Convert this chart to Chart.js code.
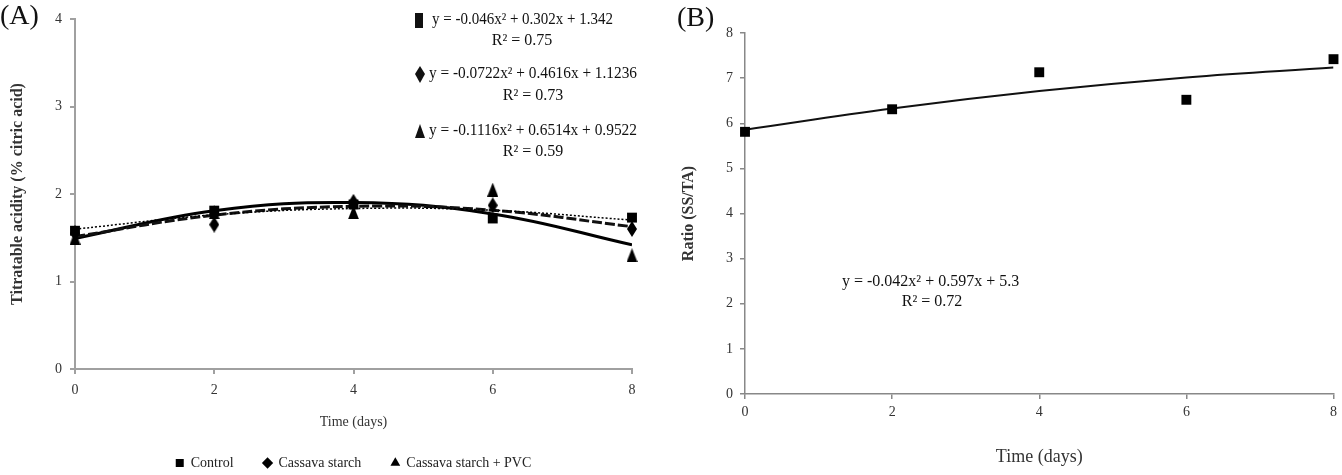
<!DOCTYPE html>
<html><head><meta charset="utf-8">
<script src="https://cdn.jsdelivr.net/npm/chart.js@4.4.1/dist/chart.umd.min.js"></script>
<style>
html,body{margin:0;padding:0;background:#fff;width:1342px;height:475px;overflow:hidden}
#ca{position:absolute;left:0;top:0}
#cb{position:absolute;left:670px;top:0}
</style></head><body>
<canvas id="ca" width="665" height="475"></canvas>
<canvas id="cb" width="672" height="475"></canvas>
<script>
// ---- data ----
const days = [0, 2, 4, 6, 8];
const seriesNames = ['Control', 'Cassava starch', 'Cassava starch + PVC'];
const control = [1.58, 1.81, 1.88, 1.72, 1.73];
const cassava = [1.55, 1.65, 1.91, 1.87, 1.60];
const cassavaPvc = [1.50, 1.79, 1.79, 2.05, 1.30];
const controlFit = [1.598, 1.762, 1.834, 1.814, 1.702];
const cassavaFit = [1.513, 1.758, 1.859, 1.815, 1.627];
const cassavaPvcFit = [1.492, 1.809, 1.902, 1.772, 1.419];
const ratio = [5.81, 6.31, 7.13, 6.52, 7.42];
const ratioFit = [5.855, 6.326, 6.713, 7.016, 7.235];
const xTicks = [0, 2, 4, 6, 8];
const yTicksA = [0, 1, 2, 3, 4];
const yTicksB = [0, 1, 2, 3, 4, 5, 6, 7, 8];
const eqA = ['y = -0.046x² + 0.302x + 1.342', 'y = -0.0722x² + 0.4616x + 1.1236', 'y = -0.1116x² + 0.6514x + 0.9522'];
const r2A = ['R² = 0.75', 'R² = 0.73', 'R² = 0.59'];
const eqB = 'y = -0.042x² + 0.597x + 5.3';
const r2B = 'R² = 0.72';

const FONT = 'Liberation Serif';
const pts = (ys) => days.map((d, i) => ({x: d, y: ys[i]}));

function shapeCanvas(w, h, path) {
  const c = document.createElement('canvas'); c.width = w; c.height = h;
  const g = c.getContext('2d'); g.fillStyle = '#000'; g.beginPath(); path(g); g.closePath(); g.fill();
  return c;
}
const diamondImg = shapeCanvas(10, 16, g => { g.moveTo(5, 0); g.lineTo(10, 8); g.lineTo(5, 16); g.lineTo(0, 8); });
const triImg = shapeCanvas(11, 14, g => { g.moveTo(5.5, 0); g.lineTo(11, 14); g.lineTo(0, 14); });

function textPlugin(items, shapes) {
  return {
    id: 'txt',
    afterDraw(chart) {
      const ctx = chart.ctx; ctx.save(); ctx.fillStyle = '#111'; ctx.textBaseline = 'middle';
      for (const it of items) {
        ctx.font = it.font; ctx.textAlign = it.align || 'left';
        if (it.maxWidth) ctx.fillText(it.text, it.x, it.y, it.maxWidth); else ctx.fillText(it.text, it.x, it.y);
      }
      for (const s of (shapes || [])) { ctx.beginPath(); s(ctx); ctx.closePath(); ctx.fill(); }
      ctx.restore();
    }
  };
}

function axisCommon(ticksArr, color, bw, extra) {
  return Object.assign({
    type: 'linear',
    afterBuildTicks: s => { s.ticks = ticksArr.map(v => ({value: v})); },
    border: {display: true, color: color, width: bw},
    grid: {display: true, drawOnChartArea: false, color: color, tickColor: color, tickLength: 5, lineWidth: bw},
  }, extra);
}

// ---- Chart A ----
const legendStyles = ['rect', 'rectRot', 'triangle'];
new Chart(document.getElementById('ca'), {
  type: 'scatter',
  data: {
    datasets: [
      {label: seriesNames[0], data: pts(control), pointStyle: 'rect', pointRadius: 7, backgroundColor: '#000', borderColor: '#000', borderWidth: 0, clip: false},
      {label: seriesNames[1], data: pts(cassava), pointStyle: diamondImg, backgroundColor: '#000', borderColor: '#000', clip: false},
      {label: seriesNames[2], data: pts(cassavaPvc), pointStyle: triImg, backgroundColor: '#000', borderColor: '#000', clip: false},
      {label: 'fit1', data: pts(controlFit), showLine: true, pointRadius: 0, borderColor: '#000', borderWidth: 1.5, borderDash: [2, 2], tension: 0.4, fill: false},
      {label: 'fit2', data: pts(cassavaFit), showLine: true, pointRadius: 0, borderColor: '#111', borderWidth: 3, borderDash: [10, 3], tension: 0.4, fill: false},
      {label: 'fit3', data: pts(cassavaPvcFit), showLine: true, pointRadius: 0, borderColor: '#000', borderWidth: 3, tension: 0.4, fill: false},
    ]
  },
  options: {
    responsive: false, animation: false, devicePixelRatio: 1,
    layout: {padding: {left: 0, right: 33, top: 19, bottom: -5}},
    scales: {
      x: axisCommon(xTicks, '#a0a0a0', 2, {
        min: 0, max: 8,
        afterFit: s => { s.height = 57; },
        ticks: {font: {family: FONT, size: 14}, color: '#333', padding: 8, maxRotation: 0},
        title: {display: true, text: 'Time (days)', font: {family: FONT, size: 14}, color: '#333', padding: {top: 0, bottom: -5}}
      }),
      y: axisCommon(yTicksA, '#a0a0a0', 2, {
        min: 0, max: 4,
        afterFit: s => { s.width = 75; },
        ticks: {font: {family: FONT, size: 14}, color: '#333', padding: 8},
        title: {display: true, text: 'Titratable acidity (% citric acid)', font: {family: FONT, size: 16, weight: 'bold'}, color: '#333', padding: {top: 8, bottom: 0}}
      })
    },
    plugins: {
      tooltip: {enabled: false},
      legend: {
        display: true, position: 'bottom', fullSize: false,
        labels: {
          usePointStyle: true, boxWidth: 8, boxHeight: 8, padding: 30,
          font: {family: FONT, size: 14}, color: '#222',
          generateLabels(chart) {
            return Chart.defaults.plugins.legend.labels.generateLabels(chart)
              .filter(l => l.datasetIndex < 3)
              .map((l, i) => Object.assign(l, {pointStyle: legendStyles[i], fillStyle: '#000', strokeStyle: '#000', lineWidth: 0}));
          }
        }
      }
    }
  },
  plugins: [textPlugin([
    {text: '(A)', x: 0, y: 17, font: '28px ' + FONT},
    {text: eqA[0], x: 432, y: 20, font: '16px ' + FONT, maxWidth: 181},
    {text: r2A[0], x: 522, y: 41, font: '16px ' + FONT, align: 'center'},
    {text: eqA[1], x: 429, y: 74, font: '16px ' + FONT, maxWidth: 208},
    {text: r2A[1], x: 533, y: 96, font: '16px ' + FONT, align: 'center'},
    {text: eqA[2], x: 429, y: 131, font: '16px ' + FONT, maxWidth: 208},
    {text: r2A[2], x: 533, y: 152, font: '16px ' + FONT, align: 'center'},
  ], [
    g => g.rect(415, 13, 8, 15),
    g => { g.moveTo(420, 66); g.lineTo(425, 74); g.lineTo(420, 83); g.lineTo(415, 74); },
    g => { g.moveTo(420, 124); g.lineTo(425, 138); g.lineTo(415, 138); },
  ])]
});

// ---- Chart B ----
new Chart(document.getElementById('cb'), {
  type: 'scatter',
  data: {
    datasets: [
      {label: 'Ratio', data: pts(ratio), pointStyle: 'rect', pointRadius: 7, backgroundColor: '#000', borderColor: '#000', borderWidth: 0, clip: false},
      {label: 'fit', data: pts(ratioFit), showLine: true, pointRadius: 0, borderColor: '#111', borderWidth: 2, tension: 0.4, fill: false},
    ]
  },
  options: {
    responsive: false, animation: false, devicePixelRatio: 1,
    layout: {padding: {left: 0, right: 4, top: 33, bottom: 0}},
    scales: {
      x: axisCommon(xTicks, '#888', 1.5, {
        min: 0, max: 8,
        afterFit: s => { s.height = 81; },
        ticks: {font: {family: FONT, size: 14}, color: '#333', padding: 5, maxRotation: 0},
        title: {display: true, text: 'Time (days)', font: {family: FONT, size: 18}, color: '#333', padding: {top: 0, bottom: 7.2}}
      }),
      y: axisCommon(yTicksB, '#888', 1.5, {
        min: 0, max: 8,
        afterFit: s => { s.width = 75; },
        ticks: {font: {family: FONT, size: 14}, color: '#333', padding: 7},
        title: {display: true, text: 'Ratio (SS/TA)', font: {family: FONT, size: 16, weight: 'bold'}, color: '#333', padding: {top: 9.4, bottom: 0}}
      })
    },
    plugins: {tooltip: {enabled: false}, legend: {display: false}}
  },
  plugins: [textPlugin([
    {text: '(B)', x: 7, y: 19, font: '28px ' + FONT},
    {text: eqB, x: 172, y: 282, font: '16px ' + FONT, maxWidth: 178},
    {text: r2B, x: 262, y: 302, font: '16px ' + FONT, align: 'center'},
  ])]
});
</script>
</body></html>
